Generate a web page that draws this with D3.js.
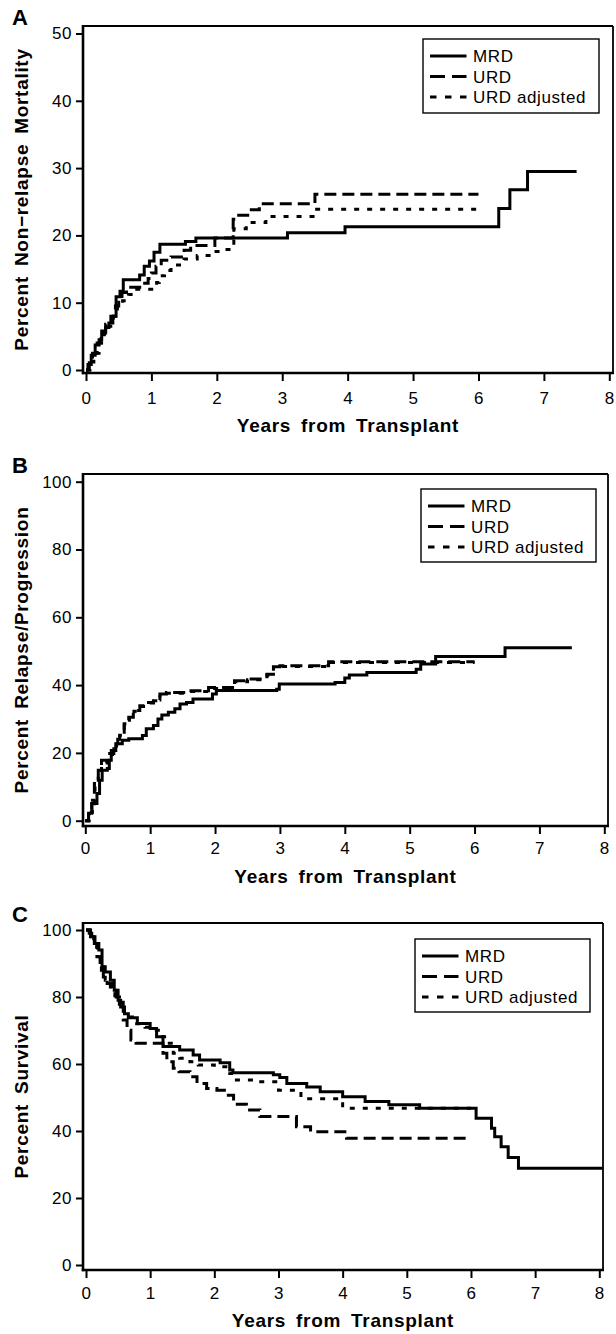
<!DOCTYPE html>
<html>
<head>
<meta charset="utf-8">
<script src="https://cdn.jsdelivr.net/npm/d3@7"></script>
<style>
body { margin: 0; background: #fff; }
svg { display: block; font-family: "Liberation Sans", Arial, Helvetica, sans-serif; }
</style>
</head>
<body>
<script>
//tick values and labels
var yearTicks = [0, 1, 2, 3, 4, 5, 6, 7, 8];
var nrmTicks = [0, 10, 20, 30, 40, 50];
var pctTicks = [0, 20, 40, 60, 80, 100];
var seriesNames = ["MRD", "URD", "URD adjusted"];
var panelLetters = ["A", "B", "C"];
var xTitle = "Years from Transplant";
var yTitles = ["Percent Non\u2212relapse Mortality", "Percent Relapse/Progression", "Percent Survival"];

//A: non-relapse mortality, [years, percent] step points
var nrmMRD = [[0,0],[0.03,0.8],[0.08,2.2],[0.14,3.7],[0.2,4.5],[0.24,5.8],[0.3,6.3],[0.35,7.0],[0.41,8.0],[0.46,10.9],[0.52,11.7],[0.57,13.4],[0.82,14.1],[0.89,15.4],[0.97,16.2],[1.04,17.5],[1.13,18.7],[1.52,19.1],[1.68,19.6],[3.08,20.4],[3.96,21.3],[6.31,24.0],[6.48,26.8],[6.75,29.5],[7.5,29.5]];
var nrmURD = [[0,0],[0.05,1.5],[0.1,2.5],[0.17,4],[0.23,5.5],[0.3,6.8],[0.38,8],[0.45,9.5],[0.5,10.7],[0.55,11.5],[0.62,12.3],[0.85,12.9],[0.95,13.6],[1.0,14.4],[1.07,15.4],[1.15,16.3],[1.3,16.8],[1.5,17.8],[1.6,18.5],[1.97,19.6],[2.25,22.4],[2.3,23.0],[2.5,23.8],[2.65,24.7],[3.5,26.1],[6.0,26.1]];
var nrmURDadj = [[0,0],[0.06,1.2],[0.12,2.5],[0.2,4],[0.28,5.5],[0.35,6.5],[0.42,8],[0.48,9.5],[0.56,10.3],[0.65,11.2],[0.72,12.0],[1.08,13.0],[1.12,14.0],[1.2,14.8],[1.3,15.6],[1.5,16.5],[1.7,17.0],[1.95,17.6],[2.1,17.9],[2.26,21.0],[2.45,21.9],[2.75,22.8],[3.5,23.9],[6.0,23.9]];

//B: relapse/progression
var relMRD = [[0,0],[0.05,2.2],[0.1,5.1],[0.18,8],[0.22,11.9],[0.26,14.9],[0.34,15.4],[0.37,17.8],[0.4,20.7],[0.47,22.7],[0.57,23.7],[0.67,24.2],[0.88,25.1],[0.94,27.1],[1.05,28.1],[1.12,30],[1.18,31.2],[1.28,32],[1.38,33],[1.46,34.4],[1.56,34.9],[1.66,35.9],[1.96,37.4],[2.02,38.4],[2.95,38.8],[2.99,40.3],[3.85,40.8],[4.0,42.1],[4.07,43.0],[4.34,43.7],[5.1,44.7],[5.17,46.2],[5.4,48.4],[6.47,51.0],[7.5,51.0]];
var relURD = [[0,0],[0.05,2],[0.1,5],[0.14,11],[0.2,14.9],[0.25,17.8],[0.34,19.8],[0.44,21.7],[0.5,24],[0.53,25.6],[0.6,28.6],[0.67,30.5],[0.74,32.5],[0.84,33.9],[0.94,34.9],[1.05,35.4],[1.15,37.4],[1.25,37.8],[1.6,38.3],[1.9,39.3],[2.3,41.3],[2.5,41.8],[2.8,43.2],[2.9,45.4],[3.0,45.7],[3.75,46.9],[6.0,46.9]];
var relURDadj = [[0,0],[0.06,2.5],[0.11,6],[0.15,10.5],[0.2,14],[0.25,17],[0.33,19.5],[0.42,21.2],[0.48,23.5],[0.53,25.2],[0.6,28.2],[0.68,30.3],[0.75,32.3],[0.85,33.7],[0.95,34.7],[1.05,35.6],[1.15,37.2],[1.25,37.6],[1.6,38.1],[1.9,39.0],[2.3,41.0],[2.5,41.6],[2.8,43.0],[2.9,45.2],[3.0,45.5],[3.75,46.7],[6.0,46.7]];

//C: overall survival
var osMRD = [[0,100],[0.05,99],[0.09,98],[0.14,96],[0.2,94],[0.25,89],[0.3,87.5],[0.38,85],[0.44,82],[0.5,79],[0.54,77],[0.6,75],[0.66,73.8],[0.8,72.1],[1.0,70.6],[1.1,68.1],[1.2,65.2],[1.46,64.2],[1.67,62.7],[1.77,61.2],[2.09,60.4],[2.24,58.2],[2.29,57.4],[2.92,56.8],[3.02,56.0],[3.13,54.2],[3.44,53.1],[3.65,51.7],[4.0,50.2],[4.35,48.8],[4.72,47.8],[5.2,46.8],[6.08,43.8],[6.32,40.8],[6.37,38.3],[6.47,35.3],[6.58,32.1],[6.74,28.9],[8.05,28.9]];
var osURD = [[0,100],[0.07,98],[0.13,96],[0.17,92],[0.22,89],[0.27,86],[0.33,84],[0.4,82],[0.47,80],[0.58,73.1],[0.64,70.1],[0.7,67.2],[0.78,66.2],[1.2,63.2],[1.26,60.7],[1.36,58.7],[1.45,57.7],[1.62,56.2],[1.73,54.2],[1.88,52.7],[2.04,52.2],[2.19,50.7],[2.3,48.0],[2.5,46.3],[2.71,44.3],[3.28,41.3],[3.5,39.8],[4.06,37.8],[5.98,37.8]];
var osURDadj = [[0,100],[0.06,98.5],[0.12,95],[0.18,92],[0.24,88],[0.3,85],[0.38,82],[0.45,79],[0.52,76],[0.6,74],[0.75,72],[0.92,71],[1.05,70.1],[1.2,68.1],[1.26,66.2],[1.36,63.2],[1.46,61.7],[1.62,60.7],[1.75,59.7],[2.0,59.2],[2.24,57.2],[2.29,55.2],[2.7,54.7],[3.0,52.2],[3.35,49.6],[4.0,46.8],[6.0,46.8]];

//line styles: solid, dashed, dotted
var lineDash = [null, "12,6", "5,8"],
	legendDash = [null, "15,7", "6.5,8.5"];

var fontTick = "17px",
	fontTitle = "19px";

var svg = d3.select("body").append("svg")
	.attr("width", 616)
	.attr("height", 1334);

//////////////
// one panel
//////////////
function createPanel(series, yDomain, yTicks, letter, yTitle, lay){
	var f = lay.frame;
	var xScale = d3.scaleLinear().domain([0, 8]).range(lay.xRange),
		yScale = d3.scaleLinear().domain(yDomain).range(lay.yRange);

	var g = svg.append("g");

	//frame
	g.append("line").attr("x1", f.left).attr("x2", f.right).attr("y1", f.top).attr("y2", f.top)
		.attr("stroke", "#000").attr("stroke-width", 1.8);
	g.append("line").attr("x1", f.right).attr("x2", f.right).attr("y1", f.top).attr("y2", f.bottom)
		.attr("stroke", "#000").attr("stroke-width", 1.8);
	g.append("line").attr("x1", f.left).attr("x2", f.left).attr("y1", f.top - 1).attr("y2", f.bottom + 1.2)
		.attr("stroke", "#000").attr("stroke-width", 2.6);
	g.append("line").attr("x1", f.left - 1.2).attr("x2", f.right + 1).attr("y1", f.bottom).attr("y2", f.bottom)
		.attr("stroke", "#000").attr("stroke-width", 2.6);

	//axes
	var gx = g.append("g")
		.attr("transform", "translate(0," + f.bottom + ")")
		.call(d3.axisBottom(xScale).tickValues(yearTicks).tickSize(8).tickPadding(lay.tickPad).tickFormat(d3.format("d")));
	var gy = g.append("g")
		.attr("transform", "translate(" + f.left + ",0)")
		.call(d3.axisLeft(yScale).tickValues(yTicks).tickSize(7).tickPadding(4).tickFormat(d3.format("d")));
	[gx, gy].forEach(function(a){
		a.select(".domain").remove();
		a.selectAll(".tick line").attr("stroke", "#000").attr("stroke-width", 2);
		a.selectAll(".tick text")
			.attr("fill", "#000")
			.style("font-family", "'Liberation Sans', Arial, sans-serif")
			.style("font-size", fontTick)
			.style("letter-spacing", "0.5px");
	});

	//axis titles
	g.append("text")
		.attr("x", (f.left + f.right) / 2)
		.attr("y", f.bottom + lay.xTitleOff)
		.attr("text-anchor", "middle")
		.style("font-weight", "bold")
		.style("font-size", fontTitle)
		.style("letter-spacing", "0.7px")
		.style("word-spacing", "4px")
		.text(xTitle);
	g.append("text")
		.attr("transform", "translate(28," + ((f.top + f.bottom) / 2) + ") rotate(-90)")
		.attr("text-anchor", "middle")
		.style("font-weight", "bold")
		.style("font-size", fontTitle)
		.style("letter-spacing", "0.7px")
		.style("word-spacing", "4px")
		.text(yTitle);

	//panel letter
	g.append("text")
		.attr("x", 12)
		.attr("y", lay.letterY)
		.style("font-weight", "bold")
		.style("font-size", "22px")
		.text(letter);

	//curves
	var line = d3.line()
		.curve(d3.curveStepAfter)
		.x(function(d) { return xScale(d[0]); })
		.y(function(d) { return yScale(d[1]); });
	series.forEach(function(s, i){
		g.append("path")
			.datum(s)
			.attr("fill", "none")
			.attr("stroke", "#000")
			.attr("stroke-width", 3)
			.attr("stroke-dasharray", lineDash[i])
			.attr("d", line);
	});

	//legend
	var L = lay.legend;
	var lg = g.append("g").attr("transform", "translate(" + L.x + "," + L.y + ")");
	lg.append("rect")
		.attr("width", L.w).attr("height", L.h)
		.attr("fill", "#fff").attr("stroke", "#000").attr("stroke-width", 1.4);
	var rowY = [17, 37.5, 58];
	seriesNames.forEach(function(name, i){
		lg.append("line")
			.attr("x1", 7).attr("x2", 43.5)
			.attr("y1", rowY[i]).attr("y2", rowY[i])
			.attr("stroke", "#000")
			.attr("stroke-width", 3.2)
			.attr("stroke-dasharray", legendDash[i]);
		lg.append("text")
			.attr("x", 50)
			.attr("y", rowY[i])
			.attr("dy", "0.36em")
			.style("font-size", "17px")
			.style("letter-spacing", "0.6px")
			.text(name);
	});
}

createPanel([nrmMRD, nrmURD, nrmURDadj], [0, 50], nrmTicks, panelLetters[0], yTitles[0], {
	frame: {left: 83, right: 613, top: 26, bottom: 373},
	xRange: [86, 609.3], yRange: [370, 33.5],
	legend: {x: 423, y: 39, w: 176, h: 74},
	letterY: 25, xTitleOff: 59, tickPad: 11
});
createPanel([relMRD, relURD, relURDadj], [0, 100], pctTicks, panelLetters[1], yTitles[1], {
	frame: {left: 83, right: 608, top: 474, bottom: 826},
	xRange: [85.3, 604.3], yRange: [820.7, 481.7],
	legend: {x: 421, y: 489, w: 175, h: 73},
	letterY: 473, xTitleOff: 57, tickPad: 8
});
createPanel([osMRD, osURD, osURDadj], [0, 100], pctTicks, panelLetters[2], yTitles[2], {
	frame: {left: 83, right: 603, top: 923, bottom: 1270},
	xRange: [86, 599.3], yRange: [1265, 930],
	legend: {x: 415, y: 939, w: 175, h: 73},
	letterY: 922, xTitleOff: 57, tickPad: 9
});
</script>
</body>
</html>
